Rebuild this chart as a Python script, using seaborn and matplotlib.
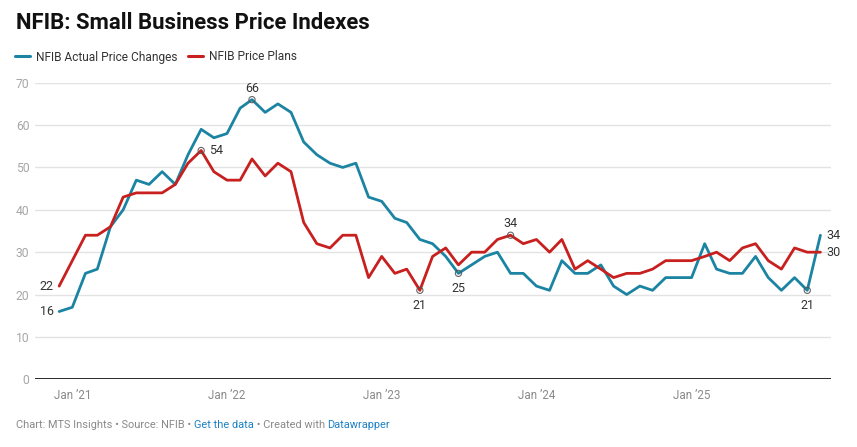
import numpy as np
import pandas as pd
import matplotlib
matplotlib.use("Agg")
import matplotlib.pyplot as plt
from matplotlib.lines import Line2D
import seaborn as sns

# ---- data ----
start_month = "2020-12-01"
actual_changes = [16, 17, 25, 26, 36, 40, 47, 46, 49, 46, 53, 59, 57, 58, 64, 66, 63, 65, 63, 56,
                  53, 51, 50, 51, 43, 42, 38, 37, 33, 32, 29, 25, 27, 29, 30, 25, 25, 22, 21, 28,
                  25, 25, 27, 22, 20, 22, 21, 24, 24, 24, 32, 26, 25, 25, 29, 24, 21, 24, 21, 34]
price_plans = [22, 28, 34, 34, 36, 43, 44, 44, 44, 46, 51, 54, 49, 47, 47, 52, 48, 51, 49, 37,
               32, 31, 34, 34, 24, 29, 25, 26, 21, 29, 31, 27, 30, 30, 33, 34, 32, 33, 30, 33,
               26, 28, 26, 24, 25, 25, 26, 28, 28, 28, 29, 30, 28, 31, 32, 28, 26, 31, 30, 30]
series_names = ["NFIB Actual Price Changes", "NFIB Price Plans"]
colors = ["#1b84a2", "#c7201f"]
y_ticks = [0, 10, 20, 30, 40, 50, 60, 70]
x_tick_years = [2021, 2022, 2023, 2024, 2025]
x_tick_labels = ["Jan \u201921", "Jan \u201922", "Jan \u201923", "Jan \u201924", "Jan \u201925"]
# annotated points: (series index, month index, placement)
annotations = [(0, 15, "above"), (1, 11, "right"), (1, 28, "below"), (0, 31, "below"),
               (1, 35, "above"), (0, 58, "below")]

dates = pd.date_range(start_month, periods=len(actual_changes), freq="MS")
df = pd.DataFrame({
    "date": np.concatenate([dates, dates]),
    "value": actual_changes + price_plans,
    "series": [series_names[0]] * len(dates) + [series_names[1]] * len(dates),
})

sns.set_theme(style="white")
plt.rcParams["font.family"] = ["Roboto", "DejaVu Sans"]

W, H = 857, 447
fig = plt.figure(figsize=(W / 100, H / 100), dpi=100)
ax = fig.add_axes([35 / W, 1 - 379.3 / H, (831 - 35) / W, (379.3 - 82.7) / H])

sns.lineplot(data=df, x="date", y="value", hue="series", palette=colors,
             hue_order=series_names, linewidth=2, legend=False, ax=ax)

ax.set_ylim(0, 70)
x0 = dates[0] - pd.Timedelta(days=57)
x1 = dates[-1] + pd.Timedelta(days=25)
ax.set_xlim(x0, x1)
for s in ax.spines.values():
    s.set_visible(False)
ax.set_yticks(y_ticks)
ax.set_yticklabels([str(t) for t in y_ticks])
for t in y_ticks[1:]:
    ax.axhline(t, color="#e3e3e3", linewidth=1, zorder=0)
ax.axhline(0, color="#1a1a1a", linewidth=1.3, zorder=3)
ax.set_xticks([pd.Timestamp(f"{y}-01-01") for y in x_tick_years])
ax.set_xticklabels(x_tick_labels)
ax.tick_params(axis="y", length=0, pad=4, labelsize=8.7, labelcolor="#a6a6a6")
ax.tick_params(axis="x", length=0, pad=7, labelsize=8.4, labelcolor="#8a8a8a")
ax.set_xlabel("")
ax.set_ylabel("")
ax.grid(False)

series_vals = [actual_changes, price_plans]
lab_kw = dict(fontsize=9, color="#333333")
for si, mi, place in annotations:
    xv = dates[mi]
    yv = series_vals[si][mi]
    ax.scatter([xv], [yv], s=20, facecolors="none", edgecolors="#555555",
               linewidths=0.8, zorder=5, clip_on=False, alpha=0.9)
    if place == "above":
        ax.annotate(str(yv), (xv, yv), xytext=(0, 3.5), textcoords="offset points",
                    ha="center", va="bottom", **lab_kw)
    elif place == "below":
        ax.annotate(str(yv), (xv, yv), xytext=(0, -6), textcoords="offset points",
                    ha="center", va="top", **lab_kw)
    else:
        ax.annotate(str(yv), (xv, yv), xytext=(6, 0), textcoords="offset points",
                    ha="left", va="center", **lab_kw)

# start / end labels
for si in range(2):
    v0 = series_vals[si][0]
    v1 = series_vals[si][-1]
    ax.annotate(str(v0), (dates[0], v0), xytext=(-4, 0), textcoords="offset points",
                ha="right", va="center", **lab_kw)
    ax.annotate(str(v1), (dates[-1], v1), xytext=(4, 0), textcoords="offset points",
                ha="left", va="center", **lab_kw)

# title
fig.text(16 / W, 1 - 23 / H, "NFIB: Small Business Price Indexes", fontsize=15.9,
         fontweight="bold", color="#111111", ha="left", va="center")

# legend
handles = [Line2D([0], [0], color=c, linewidth=2.2) for c in colors]
fig.legend(handles, series_names, loc="center left", bbox_to_anchor=(10 / W, 1 - 57 / H),
           ncol=2, frameon=False, fontsize=8.6, handlelength=1.3, handletextpad=0.45,
           columnspacing=0.9, labelcolor="#333333", borderaxespad=0)

# footer with coloured segments
segments = [("Chart: MTS Insights \u2022 Source: NFIB \u2022 ", "#8a8a8a"),
            ("Get the data", "#1d81c4"),
            (" \u2022 Created with ", "#8a8a8a"),
            ("Datawrapper", "#1d81c4")]
fig.canvas.draw()
renderer = fig.canvas.get_renderer()
xpos = 16
for txt, col in segments:
    t = fig.text(xpos / W, 1 - 425 / H, txt, fontsize=7.95, color=col, ha="left", va="center")
    bb = t.get_window_extent(renderer=renderer)
    xpos += bb.width

fig.savefig("out.png", dpi=100, facecolor="white")
